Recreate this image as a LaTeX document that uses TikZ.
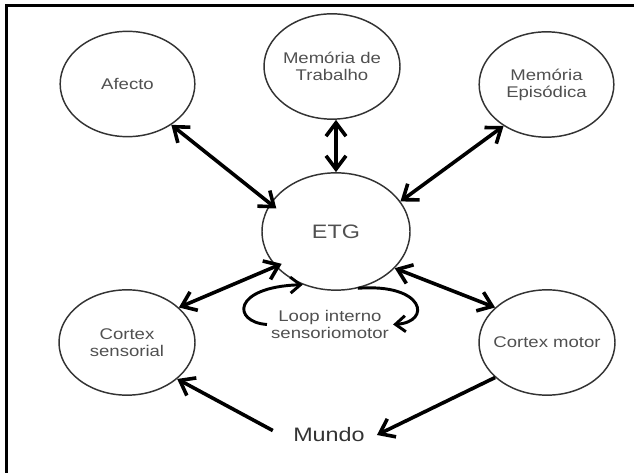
\documentclass[tikz,border=0pt]{standalone}
\usepackage{fontspec}
\setmainfont{Liberation Sans}[FakeStretch=1.2]
\usetikzlibrary{arrows.meta,shapes.geometric}
\definecolor{edgec}{HTML}{333333}
\definecolor{txtc}{HTML}{505050}
\definecolor{mundoc}{HTML}{333333}
\begin{document}
\begin{tikzpicture}[x=0.75pt,y=-0.75pt,
  bub/.style 2 args={draw=edgec, line width=1.1pt, ellipse, inner sep=0pt, minimum width=#1, minimum height=#2},
  txt/.style={text=txtc, font=\fontsize{11.6pt}{12.75pt}\selectfont, align=center, inner sep=0pt},
  bigtxt/.style={text=txtc, font=\fontsize{14.6pt}{16pt}\selectfont, inner sep=0pt},
  arr/.style={line width=2.7pt, -{Straight Barb[length=10pt,width=15pt]}},
  dbl/.style={line width=2.7pt, {Straight Barb[length=10pt,width=15pt]}-{Straight Barb[length=10pt,width=15pt]}},
  looparr/.style={line width=2.2pt, -{Straight Barb[length=7.5pt,width=12pt]}}
]
\useasboundingbox (0,0) rectangle (636,473);
% frame
\draw[line width=2.25pt] (6,473) -- (6,6) -- (634,6);

% bubbles
\node[bub={101pt}{79pt}] (afecto) at (127.5,84) {};
\node[txt] (afecto-t) at (afecto) {Afecto};
\node[bub={102pt}{79pt}] (mdt) at (332,66.5) {};
\node[txt] (mdt-t) at (mdt) {Memória de\\Trabalho};
\node[bub={101pt}{79pt}] (epi) at (546.5,84.5) {};
\node[txt] (epi-t) at (epi) {Memória\\Episódica};
\node[bub={111pt}{88pt}] (etg) at (336,231.5) {};
\node[bigtxt] (etg-t) at (etg) {ETG};
\node[bub={102pt}{79pt}] (cs) at (127,342.5) {};
\node[txt] (cs-t) at (cs) {Cortex\\sensorial};
\node[bub={102pt}{79pt}] (cm) at (547,342.5) {};
\node[txt] (cm-t) at (cm) {Cortex motor};
\node[bigtxt, text=mundoc, inner xsep=9pt] (mundo) at (329,435) {Mundo};
\node[txt, inner xsep=3pt] (loop) at (330,324.5) {Loop interno\\sensoriomotor};

% connectors
\draw[dbl, shorten >=-6pt] (afecto.-43) -- (etg.157);
\draw[dbl] (etg.north |- mdt.south) -- (etg.north);
\draw[dbl] (epi.224) -- (etg.25);
\draw[dbl, shorten >=-5pt] (cs.34) -- (etg.210);
\draw[dbl] (etg.-32) -- (cm.146);
\draw[arr] (cm.214) -- (mundo.east);
\draw[arr, shorten <=7pt] (mundo.west) -- (cs.-36);

% internal loop
\draw[looparr] (loop.west) .. controls (232,322) and (232,287) .. (etg.238);
\draw[looparr] (etg.-69) .. controls (425,283) and (432,322) .. (loop.east);
\end{tikzpicture}
\end{document}
